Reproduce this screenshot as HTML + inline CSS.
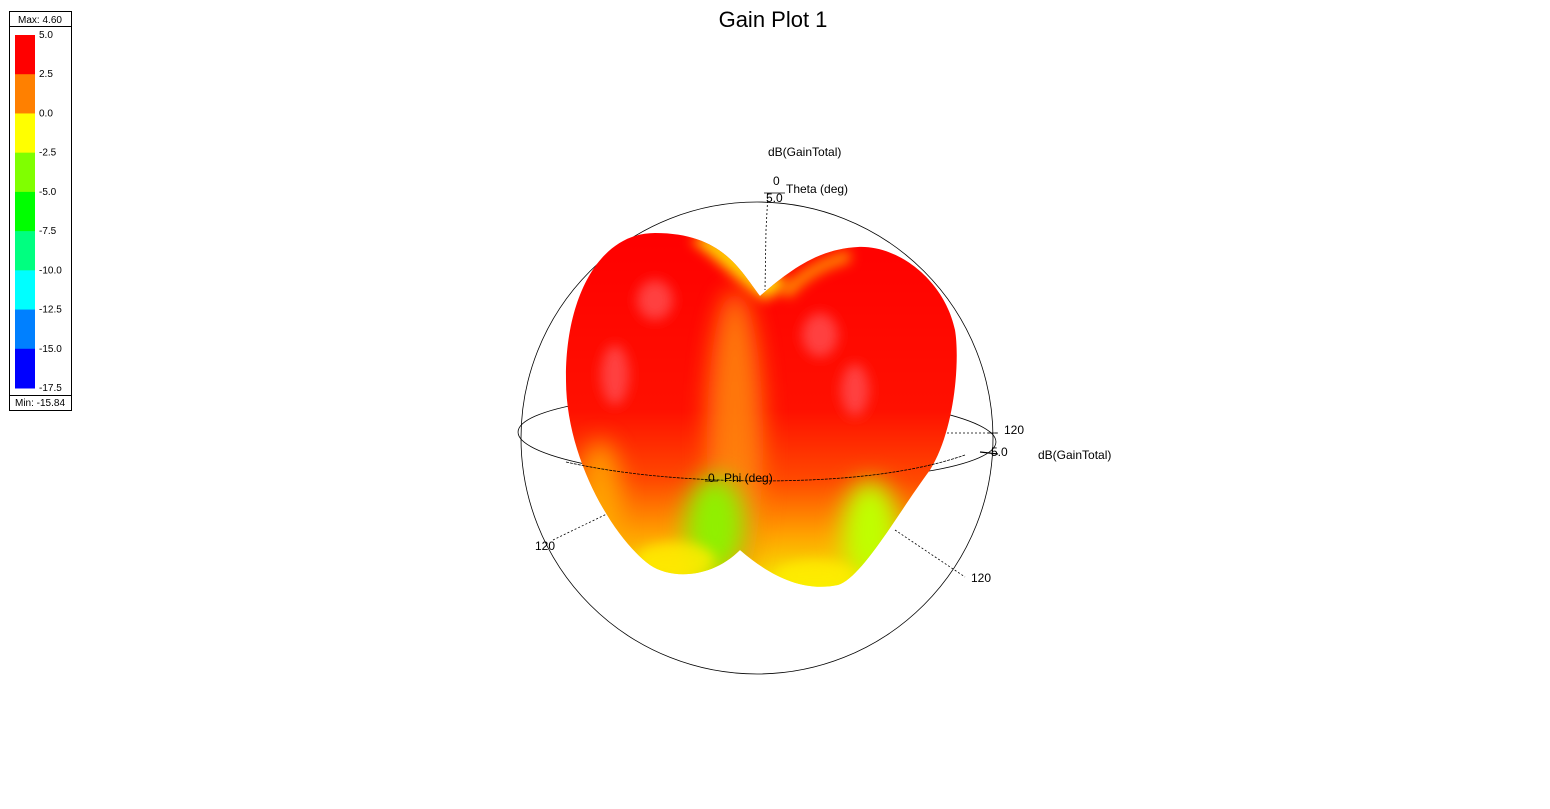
<!DOCTYPE html>
<html><head><meta charset="utf-8"><style>
html,body{margin:0;padding:0;background:#fff;}
svg{display:block;font-family:"Liberation Sans",Arial,sans-serif;}
</style></head><body>
<svg id="chart" width="1550" height="809" viewBox="0 0 1550 809">
<defs>
  <linearGradient id="vert" x1="0" y1="0" x2="0" y2="1">
    <stop offset="0" stop-color="#ff0000"/>
    <stop offset="0.5" stop-color="#ff1000"/>
    <stop offset="0.7" stop-color="#ff4a00"/>
    <stop offset="0.85" stop-color="#ffa000"/>
    <stop offset="1" stop-color="#f4f000"/>
  </linearGradient>
  <filter id="blur" x="-50%" y="-50%" width="200%" height="200%"><feGaussianBlur stdDeviation="12"/></filter>
  <filter id="blur2" x="-50%" y="-50%" width="200%" height="200%"><feGaussianBlur stdDeviation="6"/></filter>
  <clipPath id="blobclip"><path d="M 760 296 C 740 270, 722 233, 655 233 C 598 233, 565 300, 566 380 C 566 460, 615 540, 650 565 C 672 580, 712 578, 740 550 C 772 578, 805 592, 838 585 C 862 578, 900 510, 930 470 C 955 430, 960 360, 955 330 C 945 282, 900 245, 858 247 C 818 249, 790 270, 760 296 Z"/></clipPath>
</defs>
<text x="773" y="27" font-size="22" text-anchor="middle">Gain Plot 1</text>
<g id="legend"></g>

<g fill="none" stroke="#000" stroke-width="0.8">
  <circle cx="757" cy="438" r="236"/>
  <ellipse cx="757" cy="437" rx="239" ry="44" transform="rotate(1.2 757 437)"/>
  <polyline points="768,193 766,230 765,290" stroke-dasharray="2,2"/>
  <line x1="764" y1="193" x2="785" y2="193"/>
  <line x1="980" y1="452" x2="998" y2="454" stroke-width="1.2"/>
  <line x1="947" y1="433" x2="997" y2="433" stroke-dasharray="2,2"/>
  <line x1="988" y1="433" x2="998" y2="433"/>
  <line x1="553" y1="540" x2="615" y2="510" stroke-dasharray="2,2"/>
  <line x1="895" y1="530" x2="965" y2="577" stroke-dasharray="2,2"/>
</g>

<g>
  <path d="M 760 296 C 740 270, 722 233, 655 233 C 598 233, 565 300, 566 380 C 566 460, 615 540, 650 565 C 672 580, 712 578, 740 550 C 772 578, 805 592, 838 585 C 862 578, 900 510, 930 470 C 955 430, 960 360, 955 330 C 945 282, 900 245, 858 247 C 818 249, 790 270, 760 296 Z" fill="url(#vert)"/>
  <g clip-path="url(#blobclip)">
    <path d="M 690 240 C 720 260, 745 290, 765 300 L 790 285 C 770 270, 740 250, 710 235 Z" fill="#ffd000" filter="url(#blur2)"/>
    <path d="M 780 290 C 800 270, 820 258, 850 250 L 850 262 C 825 268, 805 280, 790 298 Z" fill="#ff9000" filter="url(#blur2)"/>
    <ellipse cx="735" cy="440" rx="28" ry="150" fill="#ff8a10" opacity="0.85" filter="url(#blur)"/>
    <ellipse cx="600" cy="500" rx="22" ry="60" fill="#ffb000" opacity="0.8" filter="url(#blur)"/>
    <ellipse cx="715" cy="525" rx="30" ry="50" fill="#90f000" filter="url(#blur)"/>
    <ellipse cx="870" cy="530" rx="28" ry="50" fill="#c0ff00" filter="url(#blur)"/>
    <ellipse cx="675" cy="560" rx="40" ry="18" fill="#ffee00" opacity="0.8" filter="url(#blur2)"/>
    <ellipse cx="815" cy="575" rx="40" ry="15" fill="#ffee00" opacity="0.8" filter="url(#blur2)"/>
    <ellipse cx="655" cy="300" rx="18" ry="20" fill="#ff4040" filter="url(#blur2)"/>
    <ellipse cx="615" cy="375" rx="14" ry="30" fill="#ff4040" filter="url(#blur2)"/>
    <ellipse cx="820" cy="335" rx="18" ry="22" fill="#ff4040" filter="url(#blur2)"/>
    <ellipse cx="855" cy="390" rx="14" ry="26" fill="#ff4040" filter="url(#blur2)"/>
  </g>
</g>

<g fill="none" stroke="#000" stroke-width="0.8">
  <path d="M 566 462 C 620 474, 680 480, 757 481 C 840 481, 910 474, 965 455" stroke-dasharray="3,1"/>
  <line x1="705" y1="481" x2="718" y2="481"/>
</g>

<g font-size="12" fill="#000">
  <text x="768" y="156">dB(GainTotal)</text>
  <text x="773" y="185">0</text>
  <text x="786" y="193">Theta (deg)</text>
  <text x="766" y="202">5.0</text>
  <text x="1004" y="434">120</text>
  <text x="991" y="456">5.0</text>
  <text x="1038" y="459">dB(GainTotal)</text>
  <text x="708" y="482">0</text>
  <text x="724" y="482">Phi (deg)</text>
  <text x="535" y="550">120</text>
  <text x="971" y="582">120</text>
</g>
</svg>
<script>
const legendColors = ["#ff0000","#ff8000","#ffff00","#80ff00","#00ff00","#00ff80","#00ffff","#0080ff","#0000ff"];
const legendTicks = ["5.0","2.5","0.0","-2.5","-5.0","-7.5","-10.0","-12.5","-15.0","-17.5"];
const legendMax = "Max: 4.60";
const legendMin = "Min: -15.84";
const NS = "http://www.w3.org/2000/svg";
const lg = document.getElementById('legend');
function mk(tag, attrs){const e=document.createElementNS(NS,tag);for(const k in attrs)e.setAttribute(k,attrs[k]);lg.appendChild(e);return e;}
const frame = mk('rect',{x:9.5,y:11.5,width:62,height:399,fill:'#fff',stroke:'#000','stroke-width':1});


const l1 = mk('line',{x1:9.5,y1:26.5,x2:71.5,y2:26.5,stroke:'#000'});


const l2 = mk('line',{x1:9.5,y1:395.5,x2:71.5,y2:395.5,stroke:'#000'});


const tMax = mk('text',{x:40,y:23,'font-size':10,'text-anchor':'middle'});
tMax.textContent = legendMax;


const tMin = mk('text',{x:40,y:406,'font-size':10,'text-anchor':'middle'});
tMin.textContent = legendMin;


const top0 = 35, bot0 = 388, n = legendColors.length, h = (bot0-top0)/n;
legendColors.forEach((c,i)=>{
  const r = mk('rect',{x:15,y:top0+i*h,width:20,height:h+0.5,fill:c});
  
  
});
legendTicks.forEach((t,i)=>{
  const tx = mk('text',{x:39,y:top0+i*h+3,'font-size':10});
  tx.textContent = t;
  
  
});
</script>
</body></html>
